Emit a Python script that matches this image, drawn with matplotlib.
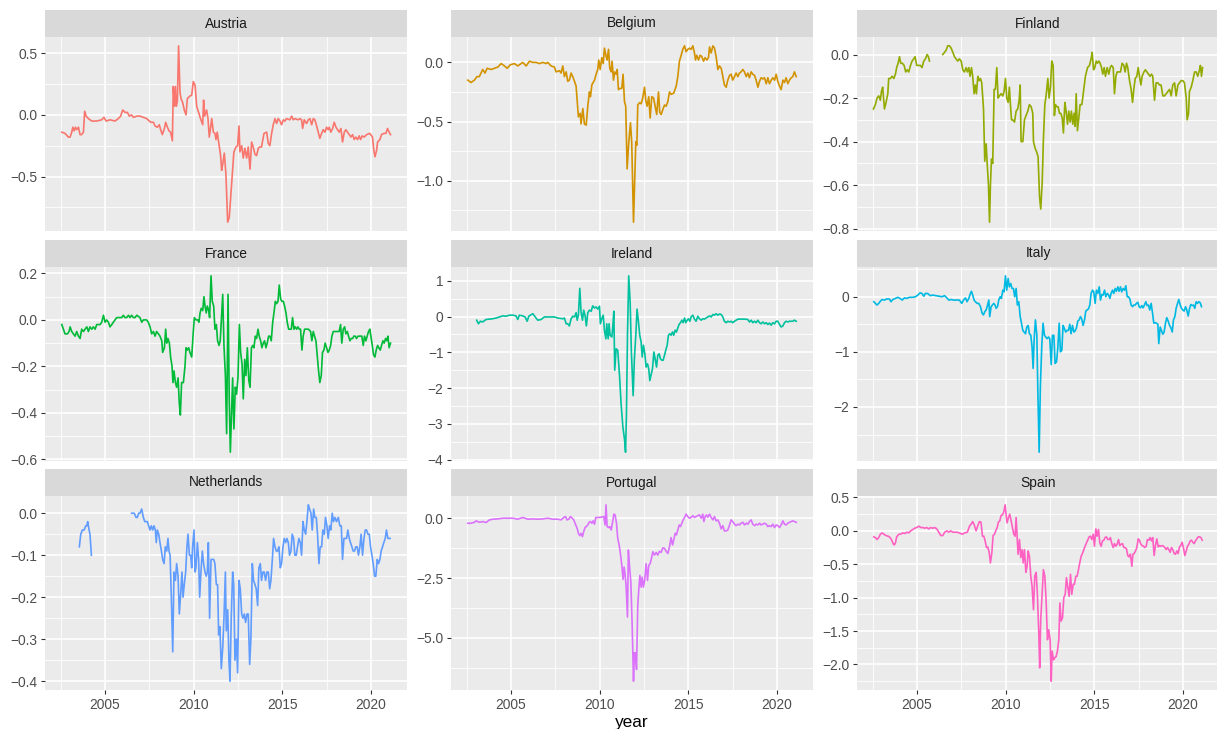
import numpy as np
import matplotlib.pyplot as plt

plt.rcParams['font.family'] = ['Liberation Sans', 'DejaVu Sans']

# monthly spread series, (year, value); nan marks a missing stretch
austria = [
    (2002.56, -0.14), (2002.74, -0.15), (2002.93, -0.18), (2003.03, -0.18), (2003.12, -0.14),
    (2003.18, -0.10), (2003.25, -0.13), (2003.33, -0.10), (2003.40, -0.12), (2003.50, -0.10),
    (2003.59, -0.16), (2003.68, -0.16), (2003.78, -0.14), (2003.85, 0.03), (2003.93, -0.01),
    (2004.06, -0.03), (2004.25, -0.05), (2004.53, -0.05), (2004.81, -0.04), (2004.94, -0.02),
    (2005.06, -0.05), (2005.28, -0.04), (2005.56, -0.05), (2005.75, -0.03), (2005.88, -0.01),
    (2006.00, 0.04), (2006.13, 0.02), (2006.26, 0.02), (2006.37, -0.01), (2006.50, 0.00),
    (2006.60, -0.02), (2006.79, -0.01), (2006.97, -0.01), (2007.16, -0.02), (2007.35, -0.03),
    (2007.58, -0.06), (2007.73, -0.06), (2007.82, -0.09), (2007.95, -0.10), (2008.06, -0.08),
    (2008.14, -0.12), (2008.23, -0.16), (2008.35, -0.11), (2008.42, -0.06), (2008.52, -0.10),
    (2008.61, -0.13), (2008.70, -0.14), (2008.80, -0.21), (2008.85, 0.23), (2008.91, 0.07),
    (2008.97, 0.23), (2009.02, 0.07), (2009.08, 0.11), (2009.15, 0.56), (2009.23, 0.18),
    (2009.29, 0.13), (2009.38, 0.10), (2009.47, 0.04), (2009.57, 0.00), (2009.64, 0.13),
    (2009.76, 0.15), (2009.89, 0.16), (2009.98, 0.27), (2010.08, 0.24), (2010.17, 0.07),
    (2010.30, 0.01), (2010.41, -0.04), (2010.51, -0.08), (2010.56, 0.12), (2010.62, -0.01),
    (2010.73, 0.04), (2010.81, -0.03), (2010.88, -0.18), (2010.96, -0.10), (2011.02, -0.03),
    (2011.11, -0.14), (2011.20, -0.15), (2011.26, -0.20), (2011.33, -0.14), (2011.45, -0.26),
    (2011.52, -0.33), (2011.58, -0.45), (2011.64, -0.40), (2011.73, -0.31), (2011.82, -0.48),
    (2011.92, -0.87), (2012.01, -0.83), (2012.09, -0.67), (2012.18, -0.48), (2012.27, -0.30),
    (2012.39, -0.26), (2012.48, -0.25), (2012.56, -0.09), (2012.61, -0.30), (2012.71, -0.25),
    (2012.80, -0.35), (2012.89, -0.27), (2012.99, -0.35), (2013.08, -0.26), (2013.18, -0.44),
    (2013.27, -0.22), (2013.36, -0.26), (2013.46, -0.32), (2013.55, -0.33), (2013.65, -0.27),
    (2013.74, -0.26), (2013.83, -0.26), (2013.97, -0.15), (2014.12, -0.14), (2014.21, -0.23),
    (2014.30, -0.25), (2014.40, -0.15), (2014.49, -0.08), (2014.59, -0.03), (2014.68, -0.07),
    (2014.77, -0.03), (2014.87, -0.05), (2014.96, -0.08), (2015.06, -0.04), (2015.15, -0.05),
    (2015.24, -0.03), (2015.43, -0.04), (2015.53, -0.01), (2015.62, -0.04), (2015.71, -0.03),
    (2015.90, -0.04), (2016.00, -0.03), (2016.09, -0.04), (2016.15, -0.11), (2016.24, -0.04),
    (2016.37, -0.07), (2016.47, -0.04), (2016.56, -0.03), (2016.66, -0.08), (2016.75, -0.03),
    (2016.84, -0.04), (2016.94, -0.09), (2017.03, -0.14), (2017.12, -0.19), (2017.22, -0.15),
    (2017.31, -0.12), (2017.41, -0.14), (2017.50, -0.10), (2017.59, -0.12), (2017.65, -0.10),
    (2017.74, -0.14), (2017.84, -0.11), (2017.93, -0.06), (2018.03, -0.10), (2018.12, -0.12),
    (2018.21, -0.14), (2018.31, -0.11), (2018.40, -0.22), (2018.50, -0.14), (2018.59, -0.12),
    (2018.68, -0.14), (2018.78, -0.16), (2018.87, -0.18), (2018.97, -0.16), (2019.06, -0.20),
    (2019.15, -0.18), (2019.25, -0.20), (2019.34, -0.17), (2019.42, -0.20), (2019.51, -0.17),
    (2019.62, -0.18), (2019.76, -0.16), (2019.94, -0.15), (2020.09, -0.18), (2020.17, -0.29),
    (2020.23, -0.34), (2020.32, -0.29), (2020.38, -0.22), (2020.51, -0.20), (2020.60, -0.16),
    (2020.73, -0.15), (2020.85, -0.15), (2020.94, -0.11), (2021.03, -0.14), (2021.11, -0.16),
]

belgium = [
    (2002.56, -0.15), (2002.74, -0.17), (2002.93, -0.15), (2003.08, -0.12), (2003.21, -0.12),
    (2003.40, -0.06), (2003.53, -0.09), (2003.65, -0.05), (2003.87, -0.06), (2004.06, -0.05),
    (2004.25, -0.04), (2004.44, -0.01), (2004.63, -0.03), (2004.78, -0.05), (2004.96, -0.02),
    (2005.19, -0.01), (2005.38, -0.03), (2005.66, 0.00), (2005.85, -0.03), (2006.04, 0.01),
    (2006.23, 0.00), (2006.41, 0.00), (2006.60, -0.01), (2006.79, 0.00), (2006.98, -0.01),
    (2007.07, 0.00), (2007.26, -0.03), (2007.45, -0.04), (2007.54, -0.08), (2007.73, -0.07),
    (2007.82, -0.09), (2007.92, -0.03), (2008.01, -0.12), (2008.11, -0.08), (2008.20, -0.16),
    (2008.29, -0.15), (2008.39, -0.09), (2008.48, -0.12), (2008.58, -0.16), (2008.67, -0.20),
    (2008.73, -0.32), (2008.80, -0.46), (2008.90, -0.43), (2008.95, -0.52), (2009.05, -0.39),
    (2009.14, -0.52), (2009.24, -0.53), (2009.33, -0.37), (2009.42, -0.25), (2009.48, -0.29),
    (2009.56, -0.19), (2009.71, -0.15), (2009.80, -0.10), (2009.89, -0.06), (2009.95, 0.02),
    (2010.03, -0.06), (2010.12, 0.04), (2010.20, -0.01), (2010.27, 0.12), (2010.35, 0.06),
    (2010.42, 0.02), (2010.50, 0.11), (2010.57, -0.05), (2010.65, -0.08), (2010.70, 0.01),
    (2010.78, -0.15), (2010.85, -0.08), (2010.93, -0.10), (2010.99, -0.06), (2011.06, -0.23),
    (2011.15, -0.22), (2011.25, -0.22), (2011.32, -0.10), (2011.40, -0.33), (2011.47, -0.37),
    (2011.55, -0.90), (2011.64, -0.68), (2011.74, -0.51), (2011.81, -0.68), (2011.91, -1.35),
    (2011.99, -0.94), (2012.04, -0.67), (2012.10, -0.70), (2012.15, -0.36), (2012.25, -0.34),
    (2012.34, -0.35), (2012.43, -0.30), (2012.53, -0.21), (2012.60, -0.32), (2012.68, -0.37),
    (2012.77, -0.29), (2012.85, -0.47), (2012.94, -0.29), (2013.04, -0.30), (2013.13, -0.37),
    (2013.22, -0.44), (2013.32, -0.25), (2013.39, -0.42), (2013.47, -0.44), (2013.56, -0.40),
    (2013.66, -0.36), (2013.75, -0.37), (2013.85, -0.33), (2013.94, -0.25), (2014.03, -0.27),
    (2014.18, -0.26), (2014.32, -0.20), (2014.41, -0.12), (2014.50, 0.01), (2014.60, 0.06),
    (2014.69, 0.11), (2014.79, 0.14), (2014.88, 0.09), (2014.97, 0.11), (2015.07, 0.12),
    (2015.16, 0.11), (2015.26, 0.14), (2015.35, 0.08), (2015.41, 0.02), (2015.48, 0.06),
    (2015.58, 0.02), (2015.67, 0.06), (2015.76, 0.05), (2015.86, 0.01), (2015.95, 0.04),
    (2016.05, 0.02), (2016.14, 0.04), (2016.20, 0.13), (2016.29, 0.08), (2016.39, 0.14),
    (2016.48, 0.12), (2016.57, 0.05), (2016.67, -0.06), (2016.76, -0.03), (2016.86, -0.05),
    (2016.95, -0.12), (2017.04, -0.19), (2017.14, -0.21), (2017.23, -0.15), (2017.33, -0.11),
    (2017.42, -0.10), (2017.51, -0.15), (2017.61, -0.12), (2017.70, -0.09), (2017.80, -0.12),
    (2017.89, -0.09), (2017.98, -0.08), (2018.08, -0.06), (2018.17, -0.08), (2018.27, -0.12),
    (2018.36, -0.09), (2018.45, -0.13), (2018.55, -0.08), (2018.64, -0.10), (2018.74, -0.11),
    (2018.83, -0.15), (2018.93, -0.21), (2019.02, -0.16), (2019.11, -0.13), (2019.21, -0.14),
    (2019.30, -0.13), (2019.40, -0.18), (2019.49, -0.13), (2019.58, -0.18), (2019.68, -0.15),
    (2019.77, -0.13), (2019.87, -0.15), (2019.96, -0.10), (2020.05, -0.16), (2020.15, -0.20),
    (2020.24, -0.23), (2020.34, -0.15), (2020.43, -0.17), (2020.52, -0.13), (2020.62, -0.18),
    (2020.71, -0.15), (2020.81, -0.13), (2020.90, -0.12), (2020.99, -0.08), (2021.09, -0.12),
]

finland = [
    (2002.54, -0.25), (2002.65, -0.23), (2002.74, -0.20), (2002.84, -0.19), (2002.93, -0.21),
    (2002.99, -0.17), (2003.06, -0.15), (2003.16, -0.25), (2003.25, -0.22), (2003.35, -0.18),
    (2003.40, -0.11), (2003.50, -0.11), (2003.59, -0.10), (2003.69, -0.11), (2003.78, -0.09),
    (2003.85, -0.06), (2003.93, -0.04), (2004.01, -0.01), (2004.08, -0.04), (2004.17, -0.04),
    (2004.27, -0.05), (2004.36, -0.08), (2004.44, -0.07), (2004.53, -0.08), (2004.63, -0.05),
    (2004.72, -0.03), (2004.81, -0.02), (2004.89, -0.01), (2004.98, -0.05), (2005.08, -0.05),
    (2005.19, -0.05), (2005.28, -0.06), (2005.38, -0.03), (2005.47, -0.02), (2005.57, 0.00),
    (2005.64, -0.01), (2005.70, -0.03), (2006.10, np.nan),
    (2006.45, 0.00), (2006.55, 0.01), (2006.64, 0.02), (2006.73, 0.04), (2006.83, 0.04),
    (2006.92, 0.03), (2007.02, 0.01), (2007.11, -0.01), (2007.20, -0.02), (2007.30, -0.03),
    (2007.39, -0.02), (2007.49, -0.03), (2007.58, -0.07), (2007.67, -0.08), (2007.77, -0.06),
    (2007.84, -0.08), (2007.92, -0.06), (2007.99, -0.10), (2008.07, -0.06), (2008.14, -0.10),
    (2008.22, -0.18), (2008.29, -0.14), (2008.35, -0.18), (2008.43, -0.10), (2008.50, -0.12),
    (2008.58, -0.11), (2008.65, -0.13), (2008.75, -0.25), (2008.82, -0.49), (2008.90, -0.41),
    (2008.95, -0.49), (2009.03, -0.60), (2009.09, -0.77), (2009.14, -0.60), (2009.20, -0.48),
    (2009.27, -0.50), (2009.35, -0.16), (2009.42, -0.16), (2009.50, -0.06), (2009.57, -0.20),
    (2009.65, -0.19), (2009.74, -0.18), (2009.84, -0.19), (2009.91, -0.17), (2009.99, -0.11),
    (2010.06, -0.20), (2010.14, -0.22), (2010.21, -0.15), (2010.27, -0.23), (2010.33, -0.30),
    (2010.40, -0.30), (2010.50, -0.31), (2010.59, -0.26), (2010.68, -0.25), (2010.76, -0.21),
    (2010.82, -0.14), (2010.87, -0.40), (2010.97, -0.40), (2011.06, -0.30), (2011.15, -0.28),
    (2011.25, -0.26), (2011.34, -0.23), (2011.44, -0.24), (2011.53, -0.27), (2011.57, -0.40),
    (2011.66, -0.43), (2011.76, -0.45), (2011.83, -0.47), (2011.91, -0.65), (2011.98, -0.71),
    (2012.06, -0.59), (2012.13, -0.39), (2012.21, -0.23), (2012.28, -0.19), (2012.38, -0.11),
    (2012.45, -0.20), (2012.53, -0.15), (2012.60, -0.03), (2012.68, -0.05), (2012.75, -0.28),
    (2012.81, -0.23), (2012.89, -0.24), (2012.96, -0.24), (2013.04, -0.27), (2013.11, -0.27),
    (2013.19, -0.29), (2013.26, -0.36), (2013.34, -0.22), (2013.41, -0.26), (2013.49, -0.32),
    (2013.56, -0.26), (2013.64, -0.31), (2013.71, -0.26), (2013.79, -0.32), (2013.86, -0.27),
    (2013.92, -0.33), (2013.98, -0.18), (2014.05, -0.35), (2014.13, -0.29), (2014.20, -0.23),
    (2014.30, -0.23), (2014.39, -0.17), (2014.50, -0.10), (2014.62, -0.06), (2014.73, -0.05),
    (2014.82, -0.02), (2014.88, 0.01), (2014.96, -0.07), (2015.03, -0.06), (2015.11, -0.03),
    (2015.18, -0.04), (2015.26, -0.03), (2015.33, -0.04), (2015.41, -0.06), (2015.48, -0.09),
    (2015.56, -0.06), (2015.63, -0.10), (2015.73, -0.06), (2015.82, -0.09), (2015.90, -0.06),
    (2015.97, -0.05), (2016.07, -0.06), (2016.14, -0.18), (2016.22, -0.10), (2016.29, -0.08),
    (2016.39, -0.08), (2016.48, -0.08), (2016.57, -0.04), (2016.67, -0.05), (2016.74, -0.08),
    (2016.82, -0.04), (2016.89, -0.06), (2016.99, -0.12), (2017.08, -0.16), (2017.16, -0.22),
    (2017.23, -0.16), (2017.31, -0.11), (2017.40, -0.10), (2017.48, -0.06), (2017.55, -0.10),
    (2017.63, -0.14), (2017.70, -0.10), (2017.80, -0.08), (2017.89, -0.07), (2017.97, -0.08),
    (2018.06, -0.09), (2018.15, -0.10), (2018.23, -0.09), (2018.30, -0.10), (2018.40, -0.21),
    (2018.49, -0.13), (2018.59, -0.13), (2018.68, -0.14), (2018.77, -0.14), (2018.87, -0.19),
    (2018.96, -0.19), (2019.06, -0.18), (2019.15, -0.17), (2019.25, -0.16), (2019.34, -0.19),
    (2019.43, -0.14), (2019.53, -0.13), (2019.62, -0.19), (2019.72, -0.14), (2019.81, -0.13),
    (2019.90, -0.12), (2020.00, -0.12), (2020.09, -0.13), (2020.19, -0.20), (2020.24, -0.30),
    (2020.32, -0.27), (2020.37, -0.17), (2020.47, -0.15), (2020.56, -0.12), (2020.66, -0.08),
    (2020.75, -0.08), (2020.84, -0.10), (2020.94, -0.07), (2020.99, -0.05), (2021.05, -0.10),
    (2021.11, -0.06),
]

france = [
    (2002.56, -0.02), (2002.65, -0.04), (2002.74, -0.06), (2002.88, -0.06), (2002.97, -0.05),
    (2003.03, -0.03), (2003.12, -0.05), (2003.21, -0.06), (2003.31, -0.07), (2003.40, -0.05),
    (2003.50, -0.07), (2003.59, -0.08), (2003.68, -0.04), (2003.78, -0.05), (2003.87, -0.04),
    (2003.97, -0.03), (2004.06, -0.05), (2004.15, -0.03), (2004.25, -0.04), (2004.34, -0.03),
    (2004.44, -0.04), (2004.53, -0.02), (2004.62, -0.02), (2004.72, -0.02), (2004.81, -0.01),
    (2004.91, 0.02), (2005.00, -0.01), (2005.09, 0.00), (2005.19, -0.01), (2005.28, -0.03),
    (2005.38, -0.02), (2005.47, -0.01), (2005.56, 0.00), (2005.66, 0.01), (2005.85, 0.01),
    (2005.94, 0.01), (2006.03, 0.02), (2006.13, 0.01), (2006.22, 0.01), (2006.32, 0.02),
    (2006.41, 0.01), (2006.50, 0.02), (2006.60, 0.01), (2006.69, 0.01), (2006.79, 0.02),
    (2006.97, 0.01), (2007.07, -0.01), (2007.16, 0.00), (2007.35, 0.00), (2007.44, -0.01),
    (2007.54, -0.03), (2007.63, -0.06), (2007.73, -0.05), (2007.82, -0.07), (2007.91, -0.05),
    (2008.01, -0.06), (2008.10, -0.07), (2008.20, -0.09), (2008.25, -0.14), (2008.35, -0.12),
    (2008.42, -0.04), (2008.48, -0.10), (2008.55, -0.08), (2008.63, -0.10), (2008.70, -0.16),
    (2008.78, -0.20), (2008.83, -0.27), (2008.89, -0.22), (2008.97, -0.27), (2009.04, -0.29),
    (2009.12, -0.25), (2009.19, -0.36), (2009.25, -0.41), (2009.32, -0.27), (2009.42, -0.27),
    (2009.51, -0.20), (2009.57, -0.12), (2009.64, -0.13), (2009.72, -0.12), (2009.79, -0.14),
    (2009.89, -0.16), (2009.98, -0.05), (2010.04, 0.01), (2010.13, 0.00), (2010.23, 0.00),
    (2010.30, -0.01), (2010.36, 0.03), (2010.43, 0.05), (2010.51, 0.04), (2010.58, 0.10),
    (2010.64, 0.06), (2010.71, 0.03), (2010.77, 0.06), (2010.85, 0.04), (2010.90, 0.01),
    (2010.98, 0.19), (2011.05, 0.08), (2011.13, 0.06), (2011.20, -0.04), (2011.28, -0.02),
    (2011.35, -0.09), (2011.43, -0.11), (2011.50, -0.09), (2011.58, 0.02), (2011.64, 0.11),
    (2011.71, -0.11), (2011.79, -0.24), (2011.86, -0.49), (2011.94, 0.11), (2012.01, -0.35),
    (2012.07, -0.57), (2012.12, -0.45), (2012.20, -0.25), (2012.27, -0.47), (2012.35, -0.29),
    (2012.42, -0.32), (2012.50, -0.25), (2012.58, -0.02), (2012.65, -0.14), (2012.73, -0.19),
    (2012.80, -0.34), (2012.88, -0.17), (2012.95, -0.24), (2013.03, -0.12), (2013.11, -0.26),
    (2013.18, -0.29), (2013.26, -0.12), (2013.33, -0.11), (2013.40, -0.12), (2013.48, -0.07),
    (2013.55, -0.08), (2013.63, -0.04), (2013.70, -0.07), (2013.78, -0.09), (2013.85, -0.12),
    (2013.93, -0.10), (2014.00, -0.09), (2014.08, -0.12), (2014.15, -0.10), (2014.23, -0.07),
    (2014.30, -0.07), (2014.38, -0.09), (2014.46, -0.01), (2014.53, 0.03), (2014.61, 0.08),
    (2014.68, 0.07), (2014.76, 0.08), (2014.83, 0.15), (2014.91, 0.09), (2014.98, 0.08),
    (2015.06, 0.08), (2015.13, 0.06), (2015.21, 0.03), (2015.28, -0.01), (2015.36, -0.04),
    (2015.43, -0.04), (2015.51, -0.04), (2015.58, 0.01), (2015.66, -0.04), (2015.73, -0.03),
    (2015.81, -0.04), (2015.88, -0.03), (2015.96, -0.04), (2016.03, -0.04), (2016.11, -0.13),
    (2016.18, -0.07), (2016.26, -0.04), (2016.37, -0.04), (2016.48, -0.04), (2016.60, -0.05),
    (2016.67, -0.09), (2016.75, -0.05), (2016.82, -0.07), (2016.90, -0.09), (2016.97, -0.15),
    (2017.05, -0.22), (2017.12, -0.27), (2017.20, -0.24), (2017.27, -0.14), (2017.35, -0.13),
    (2017.42, -0.10), (2017.50, -0.12), (2017.58, -0.14), (2017.65, -0.13), (2017.73, -0.11),
    (2017.80, -0.07), (2017.88, -0.05), (2017.97, -0.05), (2018.06, -0.05), (2018.14, -0.05),
    (2018.21, -0.05), (2018.29, -0.02), (2018.36, -0.10), (2018.44, -0.04), (2018.52, -0.03),
    (2018.59, -0.06), (2018.67, -0.05), (2018.74, -0.07), (2018.82, -0.09), (2018.89, -0.08),
    (2018.97, -0.08), (2019.04, -0.07), (2019.12, -0.07), (2019.19, -0.08), (2019.27, -0.07),
    (2019.34, -0.07), (2019.42, -0.07), (2019.49, -0.07), (2019.57, -0.11), (2019.64, -0.07),
    (2019.72, -0.09), (2019.79, -0.07), (2019.87, -0.05), (2019.94, -0.04), (2020.00, -0.07),
    (2020.08, -0.11), (2020.15, -0.15), (2020.23, -0.16), (2020.30, -0.13), (2020.38, -0.11),
    (2020.45, -0.12), (2020.53, -0.13), (2020.60, -0.11), (2020.68, -0.09), (2020.75, -0.10),
    (2020.83, -0.08), (2020.90, -0.09), (2020.96, -0.07), (2021.03, -0.12), (2021.11, -0.10),
]

ireland = [
    (2003.06, -0.10), (2003.16, -0.20), (2003.27, -0.13), (2003.40, -0.15), (2003.59, -0.08),
    (2003.78, -0.07), (2003.97, -0.06), (2004.16, -0.04), (2004.34, -0.01), (2004.53, 0.02),
    (2004.72, 0.01), (2004.91, 0.04), (2005.10, 0.04), (2005.28, 0.02), (2005.38, -0.08),
    (2005.47, 0.04), (2005.66, 0.02), (2005.79, -0.01), (2005.91, -0.13), (2006.00, 0.01),
    (2006.09, 0.04), (2006.23, 0.08), (2006.32, 0.02), (2006.41, -0.04), (2006.51, -0.10),
    (2006.70, -0.08), (2006.88, -0.01), (2007.17, -0.01), (2007.45, -0.01), (2007.64, -0.04),
    (2007.92, -0.06), (2008.01, -0.04), (2008.11, -0.20), (2008.20, -0.20), (2008.29, -0.26),
    (2008.39, -0.06), (2008.48, 0.01), (2008.58, -0.01), (2008.67, 0.11), (2008.73, -0.10),
    (2008.80, 0.04), (2008.88, 0.79), (2008.95, 0.13), (2009.03, -0.10), (2009.10, 0.18),
    (2009.18, 0.02), (2009.25, -0.26), (2009.33, 0.11), (2009.42, 0.18), (2009.52, 0.15),
    (2009.61, 0.30), (2009.71, 0.24), (2009.80, 0.27), (2009.89, 0.21), (2009.99, 0.29),
    (2010.04, -0.20), (2010.12, -0.06), (2010.20, 0.04), (2010.27, -0.38), (2010.35, -0.62),
    (2010.40, -0.20), (2010.48, -0.62), (2010.53, -0.20), (2010.59, -0.52), (2010.69, -0.57),
    (2010.74, -0.29), (2010.80, 0.15), (2010.85, -1.50), (2010.93, -0.90), (2011.02, -0.94),
    (2011.12, -1.64), (2011.21, -2.44), (2011.31, -3.09), (2011.40, -3.42), (2011.46, -3.79),
    (2011.51, -2.77), (2011.57, -0.52), (2011.64, 1.14), (2011.72, 0.41), (2011.79, -0.99),
    (2011.89, -2.21), (2011.96, -1.18), (2012.04, -0.52), (2012.11, 0.21), (2012.19, -0.15),
    (2012.26, -0.52), (2012.34, -0.71), (2012.40, -1.13), (2012.47, -0.80), (2012.55, -1.04),
    (2012.62, -1.41), (2012.70, -1.32), (2012.77, -1.46), (2012.83, -1.79), (2012.90, -1.64),
    (2012.98, -1.46), (2013.06, -0.99), (2013.13, -1.18), (2013.21, -1.41), (2013.28, -1.08),
    (2013.36, -1.04), (2013.43, -1.18), (2013.51, -1.22), (2013.58, -1.22), (2013.66, -1.08),
    (2013.73, -0.94), (2013.81, -0.80), (2013.88, -0.52), (2013.96, -0.48), (2014.03, -0.52),
    (2014.11, -0.43), (2014.18, -0.52), (2014.26, -0.38), (2014.33, -0.43), (2014.41, -0.32),
    (2014.48, -0.22), (2014.56, -0.17), (2014.64, -0.10), (2014.71, -0.17), (2014.79, -0.04),
    (2014.86, -0.17), (2014.94, -0.10), (2015.01, -0.06), (2015.09, -0.13), (2015.16, -0.01),
    (2015.26, 0.04), (2015.35, -0.07), (2015.44, -0.13), (2015.54, 0.01), (2015.63, -0.06),
    (2015.73, -0.10), (2015.82, -0.06), (2015.91, -0.07), (2016.01, -0.04), (2016.10, -0.01),
    (2016.20, 0.02), (2016.29, -0.01), (2016.39, 0.06), (2016.48, 0.04), (2016.57, 0.08),
    (2016.67, 0.04), (2016.76, 0.07), (2016.86, 0.06), (2016.95, -0.01), (2017.04, -0.13),
    (2017.14, -0.17), (2017.23, -0.13), (2017.33, -0.15), (2017.42, -0.13), (2017.51, -0.17),
    (2017.61, -0.13), (2017.70, -0.10), (2017.80, -0.07), (2017.98, -0.07), (2018.17, -0.07),
    (2018.36, -0.08), (2018.45, -0.15), (2018.55, -0.10), (2018.64, -0.17), (2018.74, -0.13),
    (2018.83, -0.17), (2018.93, -0.10), (2019.02, -0.17), (2019.11, -0.20), (2019.21, -0.15),
    (2019.30, -0.20), (2019.40, -0.17), (2019.49, -0.22), (2019.58, -0.18), (2019.68, -0.24),
    (2019.77, -0.17), (2019.87, -0.20), (2019.96, -0.13), (2020.05, -0.13), (2020.15, -0.22),
    (2020.24, -0.29), (2020.34, -0.26), (2020.43, -0.17), (2020.52, -0.13), (2020.62, -0.15),
    (2020.71, -0.13), (2020.81, -0.13), (2020.90, -0.13), (2020.99, -0.10), (2021.09, -0.13),
]

italy = [
    (2002.56, -0.09), (2002.65, -0.12), (2002.74, -0.15), (2002.84, -0.12), (2002.93, -0.08),
    (2003.03, -0.05), (2003.16, -0.06), (2003.29, -0.04), (2003.44, -0.04), (2003.53, -0.09),
    (2003.63, -0.05), (2003.78, -0.03), (2003.91, -0.01), (2004.04, -0.03), (2004.16, -0.06),
    (2004.29, -0.02), (2004.42, -0.03), (2004.57, -0.01), (2004.76, -0.01), (2004.91, 0.00),
    (2005.04, 0.03), (2005.17, 0.07), (2005.28, 0.06), (2005.38, 0.01), (2005.47, 0.06),
    (2005.60, 0.06), (2005.74, 0.02), (2005.89, 0.03), (2006.07, 0.02), (2006.26, 0.01),
    (2006.41, 0.00), (2006.55, 0.02), (2006.68, -0.02), (2006.79, -0.06), (2006.92, -0.05),
    (2007.05, -0.06), (2007.20, -0.06), (2007.39, -0.06), (2007.52, -0.12), (2007.62, -0.06),
    (2007.73, -0.02), (2007.82, -0.09), (2007.92, -0.03), (2008.01, 0.06), (2008.07, 0.10),
    (2008.14, 0.03), (2008.22, -0.06), (2008.29, -0.09), (2008.39, -0.12), (2008.48, -0.12),
    (2008.58, -0.18), (2008.67, -0.30), (2008.75, -0.33), (2008.82, -0.27), (2008.90, -0.24),
    (2008.97, -0.16), (2009.05, -0.06), (2009.10, -0.36), (2009.18, -0.18), (2009.25, -0.15),
    (2009.33, -0.12), (2009.40, -0.15), (2009.46, -0.21), (2009.54, -0.18), (2009.61, -0.06),
    (2009.69, 0.00), (2009.76, -0.03), (2009.84, 0.12), (2009.91, 0.09), (2009.99, 0.38),
    (2010.06, 0.12), (2010.14, 0.33), (2010.21, 0.18), (2010.29, 0.24), (2010.36, 0.15),
    (2010.44, 0.15), (2010.51, 0.00), (2010.59, 0.15), (2010.66, -0.15), (2010.74, -0.09),
    (2010.82, -0.36), (2010.89, -0.48), (2010.97, -0.61), (2011.04, -0.64), (2011.12, -0.67),
    (2011.19, -0.55), (2011.27, -0.52), (2011.34, -0.67), (2011.42, -0.70), (2011.49, -0.91),
    (2011.55, -1.30), (2011.61, -0.76), (2011.68, -0.42), (2011.76, -0.70), (2011.81, -1.61),
    (2011.89, -2.82), (2011.96, -1.61), (2012.04, -0.88), (2012.11, -0.48), (2012.19, -0.70),
    (2012.26, -0.73), (2012.34, -0.76), (2012.42, -0.73), (2012.49, -0.76), (2012.57, -1.23),
    (2012.64, -0.70), (2012.72, -0.70), (2012.79, -1.21), (2012.87, -1.18), (2012.94, -0.94),
    (2013.02, -0.48), (2013.09, -1.00), (2013.17, -0.97), (2013.24, -0.52), (2013.32, -0.58),
    (2013.39, -0.64), (2013.47, -0.61), (2013.54, -0.61), (2013.62, -0.50), (2013.69, -0.67),
    (2013.77, -0.52), (2013.85, -0.64), (2013.92, -0.62), (2014.00, -0.56), (2014.07, -0.44),
    (2014.15, -0.42), (2014.22, -0.36), (2014.30, -0.41), (2014.37, -0.52), (2014.45, -0.42),
    (2014.52, -0.26), (2014.60, -0.24), (2014.67, -0.22), (2014.75, -0.15), (2014.82, 0.06),
    (2014.90, 0.12), (2014.97, 0.09), (2015.05, -0.12), (2015.12, 0.12), (2015.20, 0.06),
    (2015.28, 0.18), (2015.35, -0.06), (2015.43, 0.04), (2015.50, 0.03), (2015.58, 0.12),
    (2015.65, 0.00), (2015.73, 0.06), (2015.80, 0.04), (2015.88, -0.03), (2015.95, 0.06),
    (2016.03, 0.12), (2016.10, 0.06), (2016.18, 0.15), (2016.25, 0.10), (2016.33, 0.18),
    (2016.40, 0.10), (2016.48, 0.18), (2016.55, 0.09), (2016.63, 0.15), (2016.71, 0.12),
    (2016.78, 0.20), (2016.86, 0.00), (2016.93, 0.00), (2017.01, -0.04), (2017.08, -0.15),
    (2017.16, -0.18), (2017.23, -0.15), (2017.31, -0.15), (2017.38, -0.12), (2017.46, -0.10),
    (2017.53, -0.18), (2017.61, -0.20), (2017.68, -0.16), (2017.76, -0.20), (2017.83, -0.15),
    (2017.91, -0.09), (2017.98, -0.16), (2018.06, -0.15), (2018.13, -0.24), (2018.21, -0.12),
    (2018.29, -0.30), (2018.36, -0.48), (2018.44, -0.47), (2018.51, -0.48), (2018.59, -0.50),
    (2018.64, -0.85), (2018.72, -0.55), (2018.79, -0.61), (2018.87, -0.68), (2018.94, -0.64),
    (2019.02, -0.48), (2019.09, -0.38), (2019.17, -0.44), (2019.25, -0.52), (2019.32, -0.56),
    (2019.40, -0.64), (2019.47, -0.42), (2019.55, -0.36), (2019.62, -0.21), (2019.70, -0.12),
    (2019.77, -0.05), (2019.85, -0.15), (2019.92, -0.21), (2020.00, -0.24), (2020.07, -0.26),
    (2020.15, -0.18), (2020.22, -0.24), (2020.30, -0.35), (2020.37, -0.22), (2020.45, -0.14),
    (2020.52, -0.16), (2020.60, -0.15), (2020.67, -0.21), (2020.75, -0.09), (2020.82, -0.12),
    (2020.90, -0.09), (2020.98, -0.11), (2021.05, -0.18),
]

netherlands = [
    (2003.55, -0.08), (2003.63, -0.05), (2003.72, -0.04), (2003.82, -0.04), (2003.91, -0.03),
    (2003.97, -0.03), (2004.02, -0.02), (2004.10, -0.04), (2004.15, -0.05), (2004.23, -0.10),
    (2005.00, np.nan),
    (2006.50, 0.00), (2006.60, 0.00), (2006.65, 0.00), (2006.75, -0.01), (2006.82, -0.01),
    (2006.90, 0.00), (2006.97, 0.00), (2007.07, 0.01), (2007.16, -0.01), (2007.24, -0.02),
    (2007.31, -0.02), (2007.39, -0.02), (2007.46, -0.03), (2007.54, -0.04), (2007.61, -0.03),
    (2007.69, -0.04), (2007.76, -0.03), (2007.84, -0.04), (2007.89, -0.07), (2007.95, -0.04),
    (2008.03, -0.05), (2008.10, -0.07), (2008.18, -0.09), (2008.25, -0.11), (2008.33, -0.12),
    (2008.40, -0.08), (2008.48, -0.09), (2008.55, -0.06), (2008.61, -0.09), (2008.67, -0.10),
    (2008.74, -0.20), (2008.82, -0.33), (2008.89, -0.14), (2008.97, -0.16), (2009.04, -0.12),
    (2009.12, -0.15), (2009.19, -0.24), (2009.27, -0.19), (2009.34, -0.14), (2009.40, -0.20),
    (2009.47, -0.17), (2009.55, -0.14), (2009.62, -0.08), (2009.68, -0.05), (2009.76, -0.10),
    (2009.83, -0.10), (2009.89, -0.13), (2009.94, -0.08), (2010.02, -0.04), (2010.08, -0.14),
    (2010.13, -0.13), (2010.21, -0.07), (2010.28, -0.11), (2010.34, -0.20), (2010.41, -0.14),
    (2010.49, -0.09), (2010.56, -0.12), (2010.64, -0.14), (2010.71, -0.15), (2010.77, -0.14),
    (2010.83, -0.07), (2010.90, -0.25), (2010.98, -0.11), (2011.05, -0.11), (2011.13, -0.11),
    (2011.20, -0.12), (2011.28, -0.17), (2011.35, -0.17), (2011.41, -0.29), (2011.48, -0.27),
    (2011.56, -0.37), (2011.64, -0.32), (2011.71, -0.25), (2011.79, -0.14), (2011.84, -0.28),
    (2011.92, -0.23), (2011.99, -0.35), (2012.05, -0.40), (2012.12, -0.25), (2012.20, -0.14),
    (2012.26, -0.17), (2012.33, -0.35), (2012.41, -0.30), (2012.48, -0.38), (2012.56, -0.16),
    (2012.63, -0.18), (2012.71, -0.24), (2012.78, -0.25), (2012.86, -0.24), (2012.93, -0.26),
    (2013.01, -0.24), (2013.08, -0.24), (2013.16, -0.36), (2013.23, -0.30), (2013.31, -0.12),
    (2013.38, -0.16), (2013.46, -0.17), (2013.53, -0.18), (2013.61, -0.22), (2013.68, -0.13),
    (2013.76, -0.12), (2013.83, -0.16), (2013.91, -0.14), (2013.98, -0.14), (2014.06, -0.16),
    (2014.13, -0.14), (2014.21, -0.14), (2014.29, -0.18), (2014.36, -0.16), (2014.44, -0.11),
    (2014.51, -0.06), (2014.59, -0.08), (2014.66, -0.09), (2014.74, -0.09), (2014.81, -0.08),
    (2014.89, -0.13), (2014.96, -0.12), (2015.04, -0.08), (2015.11, -0.06), (2015.19, -0.07),
    (2015.26, -0.06), (2015.34, -0.07), (2015.41, -0.10), (2015.49, -0.09), (2015.56, -0.05),
    (2015.64, -0.06), (2015.71, -0.10), (2015.79, -0.10), (2015.86, -0.08), (2015.94, -0.06),
    (2016.02, -0.07), (2016.09, -0.10), (2016.17, -0.02), (2016.24, -0.04), (2016.32, -0.05),
    (2016.39, -0.02), (2016.47, 0.02), (2016.54, 0.01), (2016.62, 0.00), (2016.69, -0.04),
    (2016.77, 0.01), (2016.84, -0.01), (2016.92, -0.01), (2016.99, -0.05), (2017.07, -0.12),
    (2017.14, -0.08), (2017.22, -0.08), (2017.29, -0.04), (2017.37, -0.05), (2017.44, -0.01),
    (2017.52, -0.03), (2017.59, -0.06), (2017.67, -0.03), (2017.74, -0.04), (2017.82, 0.00),
    (2017.89, -0.02), (2017.97, -0.01), (2018.06, -0.02), (2018.16, -0.01), (2018.25, -0.03),
    (2018.33, -0.03), (2018.40, -0.11), (2018.48, -0.06), (2018.55, -0.06), (2018.63, -0.06),
    (2018.70, -0.04), (2018.78, -0.06), (2018.85, -0.07), (2018.93, -0.08), (2019.00, -0.09),
    (2019.08, -0.09), (2019.15, -0.08), (2019.23, -0.08), (2019.30, -0.10), (2019.38, -0.08),
    (2019.45, -0.05), (2019.53, -0.10), (2019.61, -0.06), (2019.68, -0.04), (2019.76, -0.04),
    (2019.83, -0.05), (2019.91, -0.05), (2019.98, -0.08), (2020.06, -0.10), (2020.13, -0.12),
    (2020.21, -0.15), (2020.28, -0.15), (2020.36, -0.11), (2020.43, -0.12), (2020.51, -0.11),
    (2020.58, -0.09), (2020.66, -0.08), (2020.73, -0.07), (2020.81, -0.06), (2020.88, -0.04),
    (2020.96, -0.06), (2021.03, -0.06), (2021.09, -0.06),
]

portugal = [
    (2002.56, -0.21), (2002.74, -0.21), (2002.93, -0.17), (2003.03, -0.11), (2003.21, -0.17),
    (2003.40, -0.14), (2003.59, -0.18), (2003.78, -0.07), (2003.97, -0.04), (2004.25, -0.03),
    (2004.53, 0.00), (2004.81, 0.00), (2005.10, 0.00), (2005.38, -0.04), (2005.66, 0.03),
    (2005.94, -0.04), (2006.23, -0.03), (2006.51, -0.04), (2006.79, -0.03), (2007.07, 0.00),
    (2007.35, -0.04), (2007.64, -0.04), (2007.82, -0.07), (2007.97, 0.03), (2008.07, 0.07),
    (2008.16, -0.07), (2008.26, -0.04), (2008.35, 0.07), (2008.45, 0.00), (2008.54, -0.07),
    (2008.63, -0.25), (2008.73, -0.42), (2008.80, -0.63), (2008.88, -0.73), (2008.95, -0.63),
    (2009.03, -0.77), (2009.10, -0.56), (2009.18, -0.38), (2009.25, -0.35), (2009.33, -0.28),
    (2009.40, -0.17), (2009.48, -0.14), (2009.56, -0.21), (2009.63, -0.11), (2009.71, -0.25),
    (2009.78, 0.03), (2009.89, 0.03), (2010.08, 0.04), (2010.23, 0.07), (2010.31, -0.28),
    (2010.36, 0.56), (2010.42, -0.35), (2010.50, -0.39), (2010.57, -0.35), (2010.65, -0.49),
    (2010.72, -0.21), (2010.80, 0.17), (2010.87, 0.14), (2010.95, -0.21), (2011.02, -0.84),
    (2011.10, -1.12), (2011.17, -1.47), (2011.25, -1.97), (2011.32, -2.56), (2011.38, -2.04),
    (2011.44, -2.39), (2011.49, -2.81), (2011.57, -4.13), (2011.62, -1.33), (2011.68, -1.97),
    (2011.76, -2.67), (2011.83, -4.35), (2011.91, -6.81), (2011.96, -5.62), (2012.02, -5.62),
    (2012.08, -6.32), (2012.15, -3.65), (2012.21, -2.95), (2012.27, -2.39), (2012.34, -2.88),
    (2012.40, -2.46), (2012.47, -2.88), (2012.55, -2.53), (2012.62, -1.90), (2012.70, -2.60),
    (2012.77, -1.97), (2012.85, -1.90), (2012.92, -1.69), (2013.00, -1.40), (2013.09, -1.54),
    (2013.19, -1.43), (2013.28, -1.54), (2013.37, -1.38), (2013.47, -1.43), (2013.56, -1.24),
    (2013.66, -1.26), (2013.75, -1.38), (2013.85, -1.47), (2013.94, -1.19), (2014.03, -0.81),
    (2014.11, -1.12), (2014.18, -0.91), (2014.26, -0.63), (2014.33, -0.70), (2014.41, -0.49),
    (2014.49, -0.28), (2014.56, -0.35), (2014.64, -0.21), (2014.71, -0.07), (2014.79, 0.03),
    (2014.88, 0.17), (2014.97, 0.07), (2015.07, 0.00), (2015.16, 0.03), (2015.26, 0.11),
    (2015.35, 0.03), (2015.44, 0.07), (2015.54, 0.11), (2015.63, 0.14), (2015.73, 0.00),
    (2015.82, 0.17), (2015.88, -0.14), (2015.95, 0.07), (2016.03, 0.14), (2016.10, 0.04),
    (2016.20, 0.17), (2016.29, 0.03), (2016.39, -0.07), (2016.48, 0.07), (2016.57, -0.11),
    (2016.67, -0.07), (2016.76, -0.21), (2016.86, -0.45), (2016.95, -0.31), (2017.04, -0.53),
    (2017.14, -0.53), (2017.23, -0.49), (2017.33, -0.28), (2017.42, -0.07), (2017.51, -0.14),
    (2017.61, -0.25), (2017.70, -0.31), (2017.80, -0.25), (2017.89, -0.28), (2017.98, -0.21),
    (2018.08, -0.17), (2018.17, -0.28), (2018.27, -0.21), (2018.36, -0.25), (2018.45, -0.14),
    (2018.55, -0.07), (2018.64, -0.25), (2018.74, -0.31), (2018.83, -0.25), (2018.93, -0.28),
    (2019.02, -0.21), (2019.11, -0.28), (2019.21, -0.25), (2019.30, -0.21), (2019.40, -0.25),
    (2019.49, -0.35), (2019.58, -0.31), (2019.68, -0.35), (2019.77, -0.25), (2019.87, -0.39),
    (2019.96, -0.28), (2020.05, -0.31), (2020.15, -0.39), (2020.24, -0.28), (2020.34, -0.11),
    (2020.43, -0.25), (2020.52, -0.28), (2020.62, -0.21), (2020.71, -0.17), (2020.81, -0.14),
    (2020.90, -0.11), (2020.99, -0.14), (2021.09, -0.17),
]

spain = [
    (2002.56, -0.09), (2002.65, -0.10), (2002.74, -0.13), (2002.84, -0.10), (2002.93, -0.05),
    (2003.03, -0.03), (2003.12, -0.05), (2003.25, -0.07), (2003.37, -0.08), (2003.48, -0.10),
    (2003.57, -0.14), (2003.67, -0.20), (2003.72, -0.21), (2003.78, -0.18), (2003.85, -0.09),
    (2003.97, -0.05), (2004.08, -0.05), (2004.19, -0.03), (2004.31, -0.04), (2004.42, -0.02),
    (2004.53, -0.03), (2004.64, 0.00), (2004.76, 0.02), (2004.87, 0.04), (2004.98, 0.05),
    (2005.10, 0.07), (2005.21, 0.05), (2005.32, 0.05), (2005.44, 0.04), (2005.55, 0.05),
    (2005.66, 0.03), (2005.77, 0.05), (2005.89, 0.04), (2006.00, 0.05), (2006.11, 0.03),
    (2006.23, -0.02), (2006.34, -0.07), (2006.45, -0.07), (2006.56, -0.02), (2006.68, 0.00),
    (2006.79, -0.02), (2006.90, 0.00), (2007.02, -0.02), (2007.13, -0.02), (2007.24, -0.02),
    (2007.39, -0.03), (2007.54, -0.05), (2007.69, -0.03), (2007.84, -0.02), (2007.96, 0.07),
    (2008.05, 0.10), (2008.14, 0.14), (2008.24, 0.08), (2008.33, 0.00), (2008.43, 0.08),
    (2008.52, 0.14), (2008.61, 0.13), (2008.69, -0.08), (2008.77, -0.08), (2008.84, -0.15),
    (2008.92, -0.25), (2008.99, -0.24), (2009.07, -0.32), (2009.14, -0.48), (2009.22, -0.33),
    (2009.29, -0.07), (2009.37, -0.05), (2009.44, 0.00), (2009.52, 0.05), (2009.59, 0.13),
    (2009.67, 0.15), (2009.74, 0.23), (2009.82, 0.24), (2009.89, 0.28), (2009.97, 0.39),
    (2010.03, 0.23), (2010.08, 0.12), (2010.16, 0.20), (2010.23, 0.25), (2010.31, 0.15),
    (2010.38, 0.05), (2010.46, -0.05), (2010.53, -0.08), (2010.59, 0.20), (2010.65, -0.10),
    (2010.70, -0.35), (2010.78, -0.13), (2010.85, -0.40), (2010.93, -0.28), (2010.99, -0.48),
    (2011.06, -0.28), (2011.14, -0.62), (2011.21, -0.53), (2011.27, -0.30), (2011.34, -0.38),
    (2011.42, -0.68), (2011.49, -0.83), (2011.57, -1.18), (2011.64, -0.68), (2011.72, -0.62),
    (2011.79, -0.95), (2011.87, -1.53), (2011.92, -2.05), (2011.98, -1.33), (2012.06, -0.93),
    (2012.13, -0.58), (2012.21, -0.68), (2012.28, -1.03), (2012.36, -1.63), (2012.43, -1.48),
    (2012.51, -1.63), (2012.57, -2.25), (2012.62, -1.80), (2012.70, -1.93), (2012.77, -1.90),
    (2012.85, -1.88), (2012.92, -1.80), (2013.00, -1.63), (2013.06, -1.08), (2013.13, -1.35),
    (2013.21, -1.30), (2013.28, -1.00), (2013.36, -0.95), (2013.43, -0.70), (2013.51, -0.85),
    (2013.58, -0.98), (2013.66, -0.65), (2013.73, -0.95), (2013.81, -0.80), (2013.88, -0.80),
    (2013.96, -0.68), (2014.03, -0.68), (2014.11, -0.58), (2014.18, -0.48), (2014.26, -0.38),
    (2014.33, -0.34), (2014.41, -0.28), (2014.48, -0.23), (2014.56, -0.18), (2014.64, -0.13),
    (2014.71, -0.09), (2014.79, -0.08), (2014.86, -0.13), (2014.94, -0.05), (2015.01, -0.23),
    (2015.09, 0.03), (2015.16, -0.08), (2015.24, 0.02), (2015.31, -0.18), (2015.39, -0.23),
    (2015.46, -0.15), (2015.54, -0.14), (2015.61, -0.10), (2015.69, -0.09), (2015.76, -0.13),
    (2015.84, -0.13), (2015.91, -0.10), (2015.99, -0.19), (2016.07, -0.25), (2016.14, -0.19),
    (2016.22, -0.23), (2016.29, -0.20), (2016.37, -0.13), (2016.44, -0.22), (2016.52, -0.20),
    (2016.59, -0.19), (2016.67, -0.25), (2016.74, -0.25), (2016.82, -0.27), (2016.89, -0.37),
    (2016.97, -0.39), (2017.04, -0.35), (2017.12, -0.53), (2017.18, -0.35), (2017.25, -0.34),
    (2017.33, -0.30), (2017.40, -0.25), (2017.48, -0.12), (2017.55, -0.14), (2017.63, -0.20),
    (2017.70, -0.22), (2017.78, -0.23), (2017.85, -0.25), (2017.93, -0.23), (2018.00, -0.13),
    (2018.08, -0.14), (2018.15, -0.10), (2018.23, -0.15), (2018.30, -0.10), (2018.38, -0.37),
    (2018.45, -0.22), (2018.53, -0.12), (2018.61, -0.24), (2018.68, -0.22), (2018.76, -0.23),
    (2018.83, -0.22), (2018.91, -0.23), (2018.98, -0.25), (2019.06, -0.28), (2019.13, -0.25),
    (2019.21, -0.28), (2019.28, -0.32), (2019.36, -0.25), (2019.43, -0.28), (2019.51, -0.34),
    (2019.58, -0.35), (2019.66, -0.30), (2019.73, -0.34), (2019.81, -0.24), (2019.88, -0.22),
    (2019.96, -0.17), (2020.03, -0.25), (2020.11, -0.37), (2020.19, -0.30), (2020.26, -0.23),
    (2020.34, -0.20), (2020.41, -0.15), (2020.49, -0.14), (2020.56, -0.17), (2020.64, -0.19),
    (2020.71, -0.15), (2020.79, -0.12), (2020.86, -0.09), (2020.94, -0.09), (2021.02, -0.10),
    (2021.09, -0.14),
]

countries = ['Austria', 'Belgium', 'Finland', 'France', 'Ireland', 'Italy',
             'Netherlands', 'Portugal', 'Spain']
series = [austria, belgium, finland, france, ireland, italy, netherlands, portugal, spain]
colours = ['#F8766D', '#D39200', '#93AA00', '#00BA38', '#00C19F', '#00B9E3',
           '#619CFF', '#DB72FB', '#FF61C3']
y_breaks = [
    [-0.5, 0.0, 0.5],
    [-1.0, -0.5, 0.0],
    [-0.8, -0.6, -0.4, -0.2, 0.0],
    [-0.6, -0.4, -0.2, 0.0, 0.2],
    [-4, -3, -2, -1, 0, 1],
    [-2, -1, 0],
    [-0.4, -0.3, -0.2, -0.1, 0.0],
    [-5.0, -2.5, 0.0],
    [-2.0, -1.5, -1.0, -0.5, 0.0, 0.5],
]
x_breaks = [2005, 2010, 2015, 2020]
x_minor = [2002.5, 2007.5, 2012.5, 2017.5]


def label(v, whole):
    s = f'{v:.0f}' if whole else f'{v:.1f}'
    return s.replace('-', '\u2212')


W, H = 1217, 729
fig = plt.figure(figsize=(W / 100, H / 100), dpi=100)

col_left = [45, 451, 857]
row_top = [37, 267, 496]
pw, ph, sh = 362, 194, 27

all_x = np.concatenate([np.array(s)[:, 0] for s in series])
xr = all_x.max() - all_x.min()
xlim = (all_x.min() - 0.05 * xr, all_x.max() + 0.05 * xr)

for i, (name, data, col, brk) in enumerate(zip(countries, series, colours, y_breaks)):
    r, c = divmod(i, 3)
    L, T = col_left[c], row_top[r]
    ax = fig.add_axes([L / W, 1 - (T + ph) / H, pw / W, ph / H])
    strip = fig.add_axes([L / W, 1 - T / H, pw / W, sh / H])

    arr = np.array(data, dtype=float)
    x, y = arr[:, 0], arr[:, 1]
    ax.plot(x, y, color=col, lw=1.2, solid_joinstyle='round')

    lo, hi = np.nanmin(y), np.nanmax(y)
    pad = 0.05 * (hi - lo)
    ylim = (lo - pad, hi + pad)

    whole = all(float(b).is_integer() for b in brk) and isinstance(brk[0], int)
    step = brk[1] - brk[0]
    minor = [b + step / 2 for b in [brk[0] - step] + brk]
    minor = [m for m in minor if ylim[0] <= m <= ylim[1]]

    ax.set_yticks(brk)
    ax.set_yticklabels([label(b, whole) for b in brk])
    ax.set_yticks(minor, minor=True)
    ax.set_xticks(x_breaks)
    ax.set_xticks(x_minor, minor=True)
    ax.set_xlim(xlim)
    ax.set_ylim(ylim)

    ax.set_facecolor('#EBEBEB')
    ax.set_axisbelow(True)
    ax.grid(which='major', color='white', lw=1.2)
    ax.grid(which='minor', color='white', lw=0.6)
    for sp in ax.spines.values():
        sp.set_visible(False)
    ax.tick_params(which='major', axis='y', length=3, width=0.8, color='#333333',
                   labelsize=9.9, labelcolor='#4D4D4D', pad=2.5)
    ax.tick_params(which='minor', length=0)
    if r == 2:
        ax.tick_params(which='major', axis='x', length=3, width=0.8, color='#333333',
                       labelsize=9.9, labelcolor='#4D4D4D', pad=2.5)
        ax.set_xticklabels([str(b) for b in x_breaks])
    else:
        ax.tick_params(which='major', axis='x', length=0, labelbottom=False)

    strip.set_facecolor('#D9D9D9')
    strip.set_xticks([])
    strip.set_yticks([])
    for sp in strip.spines.values():
        sp.set_visible(False)
    strip.text(0.5, 0.5, name, ha='center', va='center', fontsize=9.9,
               color='#1A1A1A', transform=strip.transAxes)

fig.text(632 / W, 1 - 722 / H, 'year', ha='center', va='center', fontsize=12.4,
         color='black')

fig.savefig('out.png', dpi=100)
